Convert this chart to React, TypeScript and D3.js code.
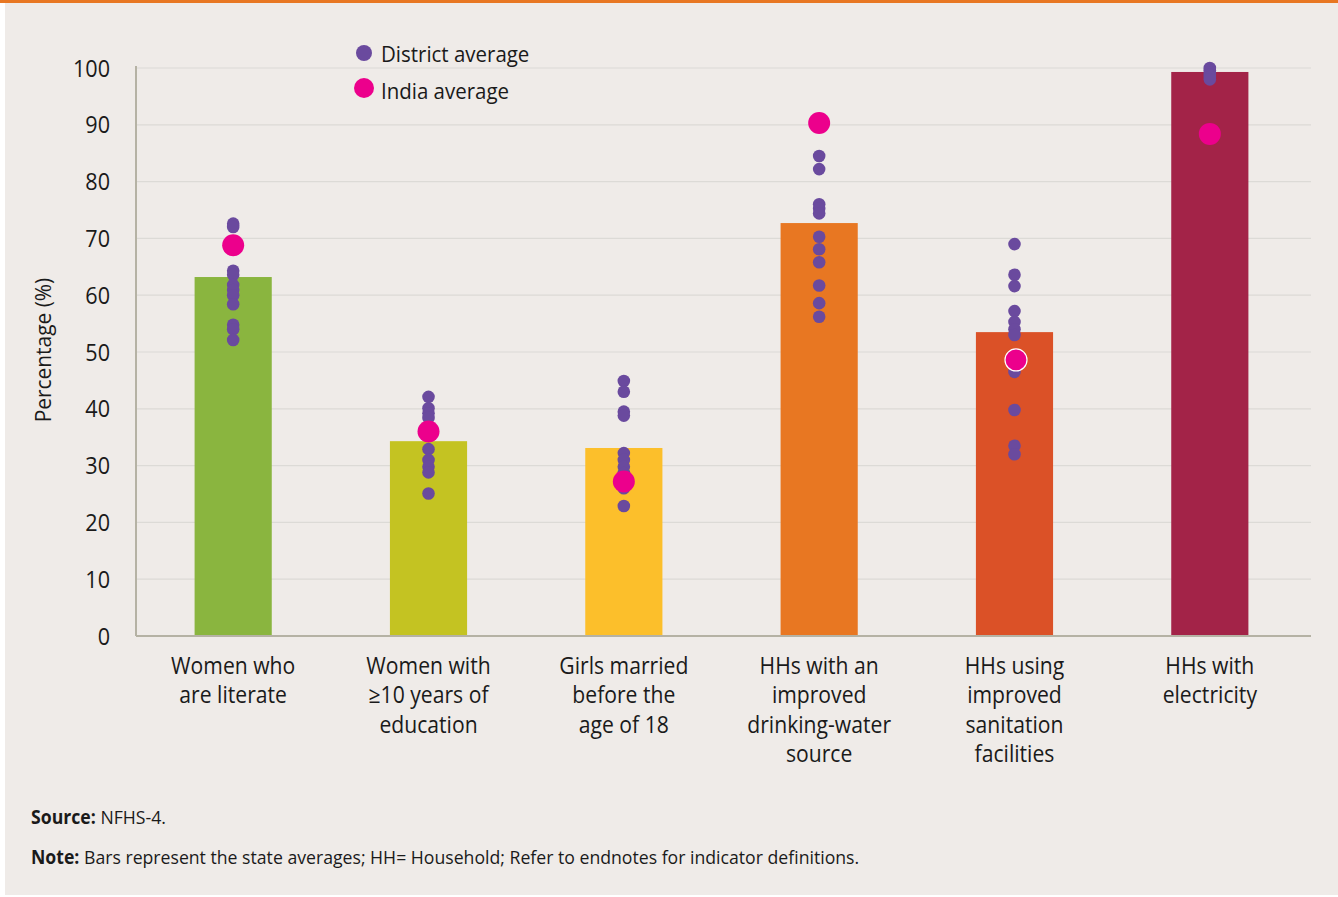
import React from "react";
import * as d3 from "d3";

const categories: string[][] = [
  ["Women who", "are literate"],
  ["Women with", "≥10 years of", "education"],
  ["Girls married", "before the", "age of 18"],
  ["HHs with an", "improved", "drinking-water", "source"],
  ["HHs using", "improved", "sanitation", "facilities"],
  ["HHs with", "electricity"],
];
const stateAverage: number[] = [63.2, 34.3, 33.1, 72.7, 53.5, 99.3];
const indiaAverage: number[] = [68.8, 36.0, 27.2, 90.3, 48.6, 88.4];
const districtAverage: number[][] = [
  [72.6, 72.0, 64.3, 63.6, 61.8, 60.9, 60.0, 58.4, 54.8, 54.0, 52.1],
  [42.1, 40.1, 39.2, 38.4, 32.9, 31.0, 29.8, 28.8, 25.1],
  [44.9, 43.0, 39.5, 38.8, 32.2, 31.0, 29.8, 28.7, 26.0, 22.9],
  [84.5, 82.2, 76.0, 75.2, 74.4, 70.3, 68.1, 65.8, 61.7, 58.6, 56.2],
  [69.0, 63.6, 61.6, 57.2, 55.3, 54.0, 53.0, 46.5, 39.8, 33.5, 32.0],
  [100, 99.6, 99.2, 98.8, 98.4, 98.0],
];
const yTicks: number[] = [0, 10, 20, 30, 40, 50, 60, 70, 80, 90, 100];
const barColors: string[] = ["#8AB53F", "#C4C322", "#FCBF2B", "#E87722", "#DB5127", "#A32348"];

const FONT = "'Open Sans', sans-serif";
const INK = "#1a1a1a";

export default function App() {
  const W = 1338;
  const H = 897;
  const left = 136;
  const right = 1311;
  const top = 68;
  const bottom = 636;

  const x = d3
    .scaleBand<number>()
    .domain(categories.map((_, i) => i))
    .range([left, right - 4])
    .paddingInner(0.605)
    .paddingOuter(0.3);
  const y = d3.scaleLinear().domain([0, 100]).range([bottom, top]);
  const cx = (i: number) => x(i)! + x.bandwidth() / 2;

  return (
    <svg
      width={W}
      height={H}
      style={{ position: "absolute", left: 0, top: 0, fontFamily: FONT }}
    >
      <rect x={0} y={0} width={W} height={H} fill="#ffffff" />
      <rect x={5} y={3} width={W - 5} height={H - 5} fill="#EFEBE8" />
      <rect x={0} y={0} width={W} height={3} fill="#E87722" />

      {yTicks.map((t) => (
        <g key={t}>
          {t > 0 && (
            <line x1={left} x2={right} y1={y(t)} y2={y(t)} stroke="#DCDAD6" strokeWidth={1.2} />
          )}
          <text
            transform={`translate(110, ${y(t)}) scale(0.9, 1)`}
            dy="0.36em"
            textAnchor="end"
            fontSize={24}
            fill={INK}
          >
            {t}
          </text>
        </g>
      ))}

      <text
        transform={`translate(43, ${(top + bottom) / 2 - 2}) rotate(-90) scale(0.95, 1)`}
        textAnchor="middle"
        dy="0.35em"
        fontSize={22}
        fill={INK}
      >
        Percentage (%)
      </text>

      {stateAverage.map((v, i) => (
        <rect
          key={i}
          x={x(i)!}
          y={y(v)}
          width={x.bandwidth()}
          height={bottom - y(v)}
          fill={barColors[i]}
        />
      ))}

      <line x1={left} x2={left} y1={top - 2} y2={bottom} stroke="#B5B2A4" strokeWidth={2} />
      <line x1={left} x2={right} y1={bottom} y2={bottom} stroke="#B5B2A4" strokeWidth={2} />

      {districtAverage.map((vals, i) =>
        vals.map((v, j) => (
          <circle key={`${i}-${j}`} cx={cx(i)} cy={y(v)} r={6.3} fill="#6A4A9E" />
        ))
      )}

      {indiaAverage.map((v, i) => (
        <circle
          key={i}
          cx={cx(i) + (i === 4 ? 1.5 : 0)}
          cy={y(v)}
          r={11}
          fill="#EC008C"
          stroke={i === 4 ? "#ffffff" : "none"}
          strokeWidth={i === 4 ? 1.2 : 0}
        />
      ))}

      {categories.map((lines, i) => (
        <text
          key={i}
          transform={`translate(${cx(i)}, 674) scale(0.92, 1)`}
          textAnchor="middle"
          fontSize={23}
          fill={INK}
        >
          {lines.map((l, k) => (
            <tspan key={k} x={0} y={k * 29.5}>
              {l}
            </tspan>
          ))}
        </text>
      ))}

      <circle cx={364} cy={53} r={8} fill="#6A4A9E" />
      <text transform="translate(381, 62) scale(0.93, 1)" fontSize={22} fill={INK}>
        District average
      </text>
      <circle cx={364} cy={88} r={10} fill="#EC008C" />
      <text transform="translate(381, 99) scale(0.93, 1)" fontSize={22} fill={INK}>
        India average
      </text>

      <text transform="translate(31, 824) scale(0.93, 1)" fontSize={19} fill={INK}>
        <tspan fontWeight="bold">Source:</tspan> NFHS-4.
      </text>
      <text transform="translate(31, 864) scale(0.93, 1)" fontSize={19} fill={INK}>
        <tspan fontWeight="bold">Note:</tspan> Bars represent the state averages; HH= Household; Refer to endnotes for indicator definitions.
      </text>
    </svg>
  );
}
